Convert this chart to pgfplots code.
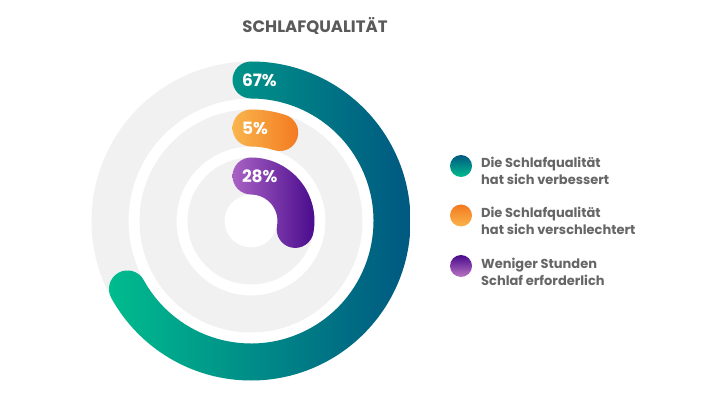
\documentclass[border=0pt]{standalone}
\usepackage{pgfplots}
\pgfplotsset{compat=1.18}
\usepackage{pgfplotstable}
\usepackage{fontspec}
\setmainfont{Poppins}

\definecolor{ringgray}{HTML}{F1F1F1}
\definecolor{L1}{HTML}{00BD8E}
\definecolor{R1}{HTML}{005881}
\definecolor{L2}{HTML}{F9B54C}
\definecolor{R2}{HTML}{F37920}
\definecolor{L3}{HTML}{A962C4}
\definecolor{R3}{HTML}{480A8C}
\definecolor{txtgray}{HTML}{666666}
\definecolor{titlegray}{HTML}{5A5A5A}

\pgfplotstableread{
id cx cy rad pct
1 251 176 141 67
2 251 176 93 5
3 251 176 45 28
}\rings

\begin{document}
\begin{tikzpicture}
\fill[white] (0,0) rectangle (720pt,397pt);
\begin{axis}[
  width=720pt, height=397pt, scale only axis,
  xmin=0, xmax=720, ymin=0, ymax=397,
  hide axis, clip=false,
]
\addplot[scatter, only marks, mark=*, mark size=0.01pt,
  visualization depends on={\thisrow{rad} \as \myR},
  visualization depends on={\thisrow{pct} \as \myP},
  visualization depends on={\thisrow{id} \as \myid},
  scatter/@pre marker code/.code={%
    \begin{scope}
    \pgfkeys{/pgf/fpu=false}%
    \pgfmathtruncatemacro{\k}{\myid}%
    \pgfmathtruncatemacro{\pp}{\myP}%
    \pgfmathsetmacro{\ea}{90-3.6*\myP}%
    \pgfmathsetmacro{\eb}{\ea-180}%
    \pgfmathsetmacro{\rr}{\myR}%
    \pgfmathsetmacro{\ro}{\myR+18.5}%
    \pgfmathsetmacro{\ri}{\myR-18.5}%
    \draw[ringgray, line width=37pt] (0,0) circle[radius=\rr pt];
    \shade[draw=none, left color=L\k, right color=R\k]
      (90:\ro pt) arc[start angle=90, end angle=\ea, radius=\ro pt]
      arc[start angle=\ea, end angle=\eb, radius=18.5pt]
      arc[start angle=\ea, end angle=90, radius=\ri pt]
      arc[start angle=-90, end angle=-270, radius=18.5pt] -- cycle;
    \pgftext[left,x=-9pt,y=\rr pt]{\color{white}\bfseries\fontsize{17}{17}\selectfont\pp\%}%
    \pgfsetfillcolor{white}\pgfsetstrokecolor{white}%
  },
  scatter/@post marker code/.code={\end{scope}},
] table[x=cx, y=cy] {\rings};

\node[font=\bfseries\fontsize{16.5}{16.5}\selectfont, text=titlegray]
  at (axis cs:315,371) {SCHLAFQUALITÄT};

\shade[top color=R1, bottom color=L1] (axis cs:461,231) circle[radius=11pt];
\shade[top color=R2, bottom color=L2] (axis cs:461,181.5) circle[radius=11pt];
\shade[top color=R3, bottom color=L3!80!pink] (axis cs:461,131) circle[radius=11pt];

\begin{scope}[every node/.style={anchor=base west, inner sep=0pt, text=txtgray,
   font=\bfseries\fontsize{13}{13}\selectfont}]
\node at (axis cs:481,229) {Die Schlafqualität};
\node at (axis cs:481,212.5) {hat sich verbessert};
\node at (axis cs:481,179) {Die Schlafqualität};
\node at (axis cs:481,162) {hat sich verschlechtert};
\node at (axis cs:481,129) {Weniger Stunden};
\node at (axis cs:481,112) {Schlaf erforderlich};
\end{scope}
\end{axis}
\end{tikzpicture}
\end{document}
